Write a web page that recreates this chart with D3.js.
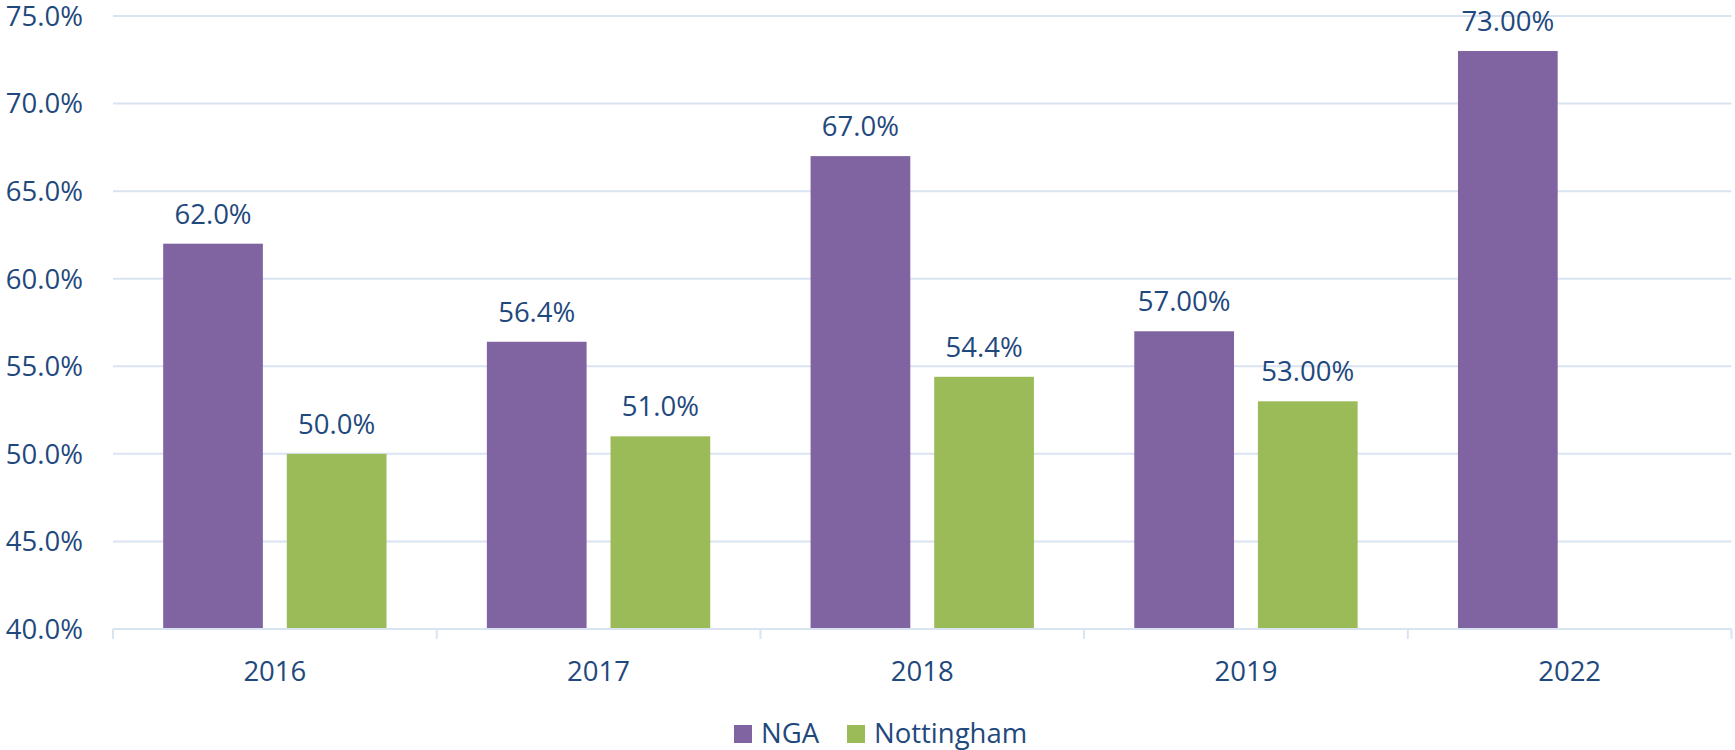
<!DOCTYPE html>
<html>
<head>
<meta charset="utf-8">
<script src="https://cdn.jsdelivr.net/npm/d3@7"></script>
<style>
  body { margin: 0; background: #fff; }
  svg text { font-family: "Open Sans", sans-serif; fill: #1F497D; }
</style>
</head>
<body>
<svg id="chart" width="1735" height="750"></svg>
<script>
var years = ["2016", "2017", "2018", "2019", "2022"];
var seriesNames = ["NGA", "Nottingham"];
var ngaValues = [62.0, 56.4, 67.0, 57.0, 73.0];
var nottinghamValues = [50.0, 51.0, 54.4, 53.0, null];
var ngaLabels = ["62.0%", "56.4%", "67.0%", "57.00%", "73.00%"];
var nottinghamLabels = ["50.0%", "51.0%", "54.4%", "53.00%", ""];
var yTicks = [40, 45, 50, 55, 60, 65, 70, 75];

var colors = { "NGA": "#8064A2", "Nottingham": "#9BBB59" };
var gridColor = "#D9E3F2";
var fontSize = 27.5;

var svg = d3.select("#chart"),
    plotLeft = 113, plotRight = 1731.5, plotTop = 16, plotBottom = 629;

var x = d3.scaleBand()
    .domain(years)
    .range([plotLeft, plotRight])
    .padding(0);

// two bars inside each year slot, with ~50px of air either side
var xs = d3.scaleBand()
    .domain(seriesNames)
    .range([x.bandwidth() * 0.155, x.bandwidth() * 0.845])
    .paddingInner(0.1935);

var y = d3.scaleLinear()
    .domain([40, 75])
    .range([plotBottom, plotTop]);

// gridlines
svg.append("g")
  .selectAll("line")
  .data(yTicks.slice(1))
  .enter().append("line")
    .attr("x1", plotLeft)
    .attr("x2", plotRight)
    .attr("y1", function(d) { return y(d); })
    .attr("y2", function(d) { return y(d); })
    .attr("stroke", gridColor)
    .attr("stroke-width", 2);

// y labels
svg.append("g")
  .selectAll("text")
  .data(yTicks)
  .enter().append("text")
    .attr("x", 83)
    .attr("y", function(d) { return y(d); })
    .attr("dy", "0.36em")
    .attr("text-anchor", "end")
    .style("font-size", fontSize + "px")
    .text(function(d) { return d.toFixed(1) + "%"; });

var rows = years.map(function(yr, i) {
  return [
    { year: yr, key: "NGA", value: ngaValues[i], label: ngaLabels[i] },
    { year: yr, key: "Nottingham", value: nottinghamValues[i], label: nottinghamLabels[i] }
  ].filter(function(d) { return d.value != null; });
});

var groups = svg.append("g")
  .selectAll("g")
  .data(rows)
  .enter().append("g")
    .attr("transform", function(d, i) { return "translate(" + x(years[i]) + ",0)"; });

groups.selectAll("rect")
  .data(function(d) { return d; })
  .enter().append("rect")
    .attr("x", function(d) { return xs(d.key); })
    .attr("y", function(d) { return y(d.value); })
    .attr("width", xs.bandwidth())
    .attr("height", function(d) { return y(40) - y(d.value); })
    .attr("fill", function(d) { return colors[d.key]; });

groups.selectAll("text")
  .data(function(d) { return d; })
  .enter().append("text")
    .attr("x", function(d) { return xs(d.key) + xs.bandwidth() / 2; })
    .attr("y", function(d) { return y(d.value) - 20; })
    .attr("text-anchor", "middle")
    .style("font-size", fontSize + "px")
    .text(function(d) { return d.label; });

// x axis
var xAxis = svg.append("g")
    .attr("transform", "translate(0," + plotBottom + ")");

xAxis.append("line")
    .attr("x1", plotLeft)
    .attr("x2", plotRight)
    .attr("stroke", gridColor)
    .attr("stroke-width", 2);

var boundaries = years.map(function(d) { return x(d); }).concat([plotRight]);
xAxis.selectAll("line.tick")
  .data(boundaries)
  .enter().append("line")
    .attr("class", "tick")
    .attr("x1", function(d) { return d; })
    .attr("x2", function(d) { return d; })
    .attr("y1", 0)
    .attr("y2", 10)
    .attr("stroke", gridColor)
    .attr("stroke-width", 2);

xAxis.selectAll("text")
  .data(years)
  .enter().append("text")
    .attr("x", function(d) { return x(d) + x.bandwidth() / 2; })
    .attr("y", 52)
    .attr("text-anchor", "middle")
    .style("font-size", fontSize + "px")
    .text(function(d) { return d; });

// legend
var legend = svg.append("g");
var legendX = [734, 847];
seriesNames.forEach(function(name, i) {
  legend.append("rect")
    .attr("x", legendX[i])
    .attr("y", 725)
    .attr("width", 18)
    .attr("height", 18)
    .attr("fill", colors[name]);
  legend.append("text")
    .attr("x", legendX[i] + 27)
    .attr("y", 743)
    .style("font-size", fontSize + "px")
    .text(name);
});
</script>
</body>
</html>
